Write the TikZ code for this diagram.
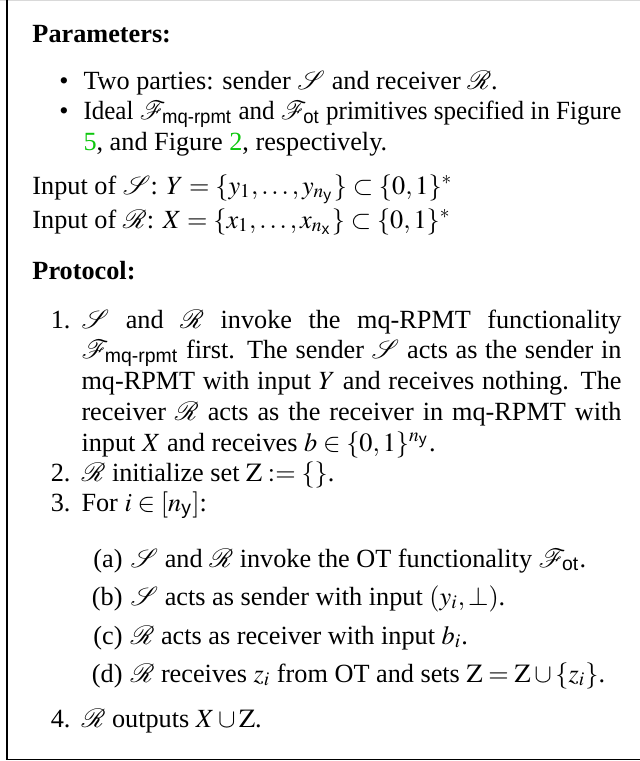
\documentclass[tikz,border=0pt]{standalone}
\usepackage{graphicx}
\usepackage{amsmath}
\usepackage{mathptmx}
\usepackage[no-math]{fontspec}
\setmainfont{Liberation Serif}
\setsansfont{Liberation Sans}
\definecolor{linkgreen}{rgb}{0.05,0.78,0.05}
\newcommand{\Sd}{\mathcal{S}}
\newcommand{\Rv}{\mathcal{R}}
\newcommand{\Fmq}{\mathcal{F}_{\textsf{mq-rpmt}}}
\newcommand{\Fot}{\mathcal{F}_{\textsf{ot}}}
\newcommand{\sub}[1]{\textsf{#1}}
% justified line of a given width
\newcommand{\jline}[2]{\makebox[#1][s]{\spaceskip=.25em plus .3em minus .1em #2}}
% line squeezed to a given width
\newcommand{\fitline}[2]{\resizebox{#1}{\height}{#2}}
\tikzset{
  txt/.style={anchor=base west, inner sep=0pt, font=\fontsize{10.5}{12.6}\selectfont},
  lbl/.style={anchor=base east, inner sep=0pt, font=\fontsize{10.5}{12.6}\selectfont},
  frame/.style={line width=0.6pt, black}
}
\begin{document}
\begin{tikzpicture}[x=0.4pt,y=-0.4pt]
\useasboundingbox (0,0) rectangle (640,761);
% frame of the box
\draw[black!15, line width=0.6pt] (0,0.5) -- (640,0.5);
\coordinate (tl) at (7,0);
\coordinate (bl) at (7,759.5);
\coordinate (br) at (640,759.5);
\draw[frame] (tl) -- (bl) -- (br);

% parameters
\node[txt] (par) at (32,42) {\textbf{Parameters:}};
\node[lbl] (bu1) at (69,89) {\textbullet};
\node[txt] (p1) at (83,89) {Two parties: sender $\Sd$ and receiver $\Rv$.};
\node[lbl] (bu2) at (69,119.5) {\textbullet};
\node[txt] (p2) at (83,119.5) {\fitline{215.2pt}{Ideal $\Fmq$ and $\Fot$ primitives specified in Figure}};
\node[txt] (p3) at (83,150) {{\color{linkgreen}5}, and Figure {\color{linkgreen}2}, respectively.};

\node[txt] (ins) at (32,194) {Input of $\Sd$: $Y=\{y_1,\ldots,y_{n_{\sub{y}}}\}\subset\{0,1\}^*$};
\node[txt] (inr) at (32,228) {Input of $\Rv$: $X=\{x_1,\ldots,x_{n_{\sub{x}}}\}\subset\{0,1\}^*$};

% protocol
\node[txt] (prot) at (32,279) {\textbf{Protocol:}};
\node[lbl] (n1) at (71,328) {1.};
\node[txt] (s1a) at (81,328) {\jline{216pt}{$\Sd$ and $\Rv$ invoke the mq-RPMT functionality}};
\node[txt] (s1b) at (81,358.5) {\jline{216pt}{$\Fmq$ first. The sender $\Sd$ acts as the sender in}};
\node[txt] (s1c) at (81,389) {\jline{216pt}{mq-RPMT with input $Y$ and receives nothing. The}};
\node[txt] (s1d) at (81,420) {\jline{216pt}{receiver $\Rv$ acts as the receiver in mq-RPMT with}};
\node[txt] (s1e) at (81,451) {input $X$ and receives $b\in\{0,1\}^{n_{\sub{y}}}$.};
\node[lbl] (n2) at (71,481) {2.};
\node[txt] (s2) at (81,481) {$\Rv$ initialize set $\mathrm{Z}:=\{\}$.};
\node[lbl] (n3) at (71,511) {3.};
\node[txt] (s3) at (81,511) {For $i\in[n_{\sub{y}}]$:};

\node[lbl] (na) at (123,567) {(a)};
\node[txt] (sa) at (130,567) {$\Sd$ and $\Rv$ invoke the OT functionality $\Fot$.};
\node[lbl] (nb) at (123,605) {(b)};
\node[txt] (sb) at (130,605) {$\Sd$ acts as sender with input $(y_i,\bot)$.};
\node[lbl] (nc) at (123,644) {(c)};
\node[txt] (sc) at (130,644) {$\Rv$ acts as receiver with input $b_i$.};
\node[lbl] (nd) at (123,682) {(d)};
\node[txt] (sd) at (130,682) {$\Rv$ receives $z_i$ from OT and sets $\mathrm{Z}=\mathrm{Z}\cup\{z_i\}$.};

\node[lbl] (n4) at (71,727) {4.};
\node[txt] (s4) at (81,727) {$\Rv$ outputs $X\cup\mathrm{Z}$.};
\end{tikzpicture}
\end{document}
